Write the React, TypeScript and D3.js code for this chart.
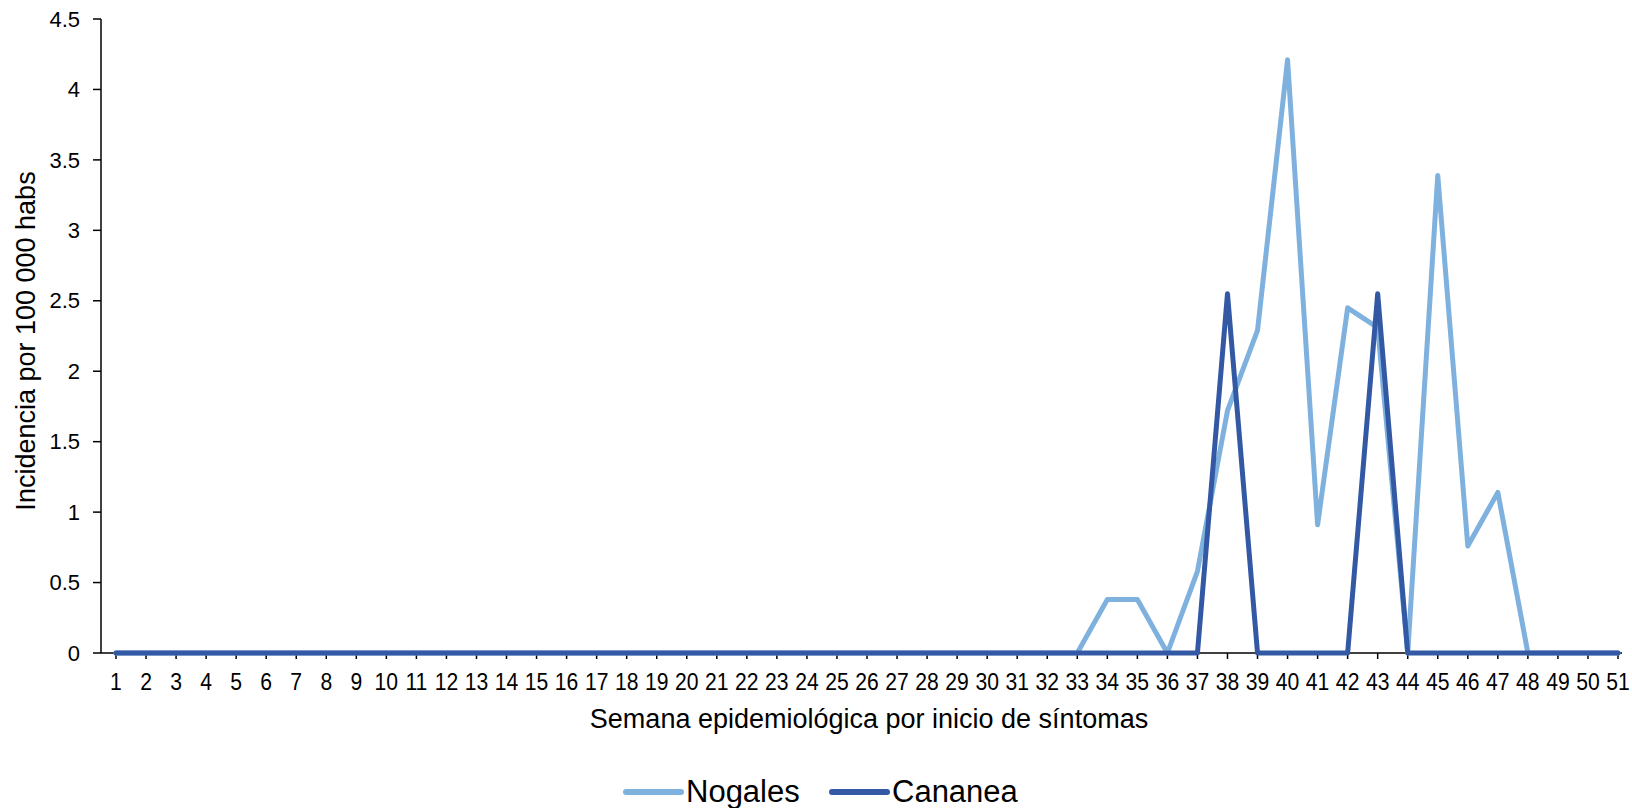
import React from "react";
import * as d3 from "d3";

const weeks: number[] = Array.from({ length: 51 }, (_, i) => i + 1);
const nogales: number[] = [
  0, 0, 0, 0, 0, 0, 0, 0, 0, 0,
  0, 0, 0, 0, 0, 0, 0, 0, 0, 0,
  0, 0, 0, 0, 0, 0, 0, 0, 0, 0,
  0, 0, 0, 0.38, 0.38, 0, 0.58, 1.72, 2.29, 4.21,
  0.91, 2.45, 2.31, 0, 3.39, 0.76, 1.14, 0, 0, 0, 0,
];
const cananea: number[] = [
  0, 0, 0, 0, 0, 0, 0, 0, 0, 0,
  0, 0, 0, 0, 0, 0, 0, 0, 0, 0,
  0, 0, 0, 0, 0, 0, 0, 0, 0, 0,
  0, 0, 0, 0, 0, 0, 0, 2.55, 0, 0,
  0, 0, 2.55, 0, 0, 0, 0, 0, 0, 0, 0,
];
const yTicks: number[] = [0, 0.5, 1, 1.5, 2, 2.5, 3, 3.5, 4, 4.5];
const seriesNames = ["Nogales", "Cananea"];
const colors = ["#7FB1DF", "#3459A4"];

export default function App() {
  const W = 1632, H = 808;
  const axisX = 101;
  const x = d3.scaleLinear().domain([1, 51]).range([116, 1618]);
  const y = d3.scaleLinear().domain([0, 4.5]).range([653, 19]);
  const line = d3
    .line<number>()
    .x((_, i) => x(weeks[i]))
    .y((d) => y(d));
  const series = [nogales, cananea];
  const font = "'Liberation Sans', Arial, sans-serif";

  return (
    <svg
      width={W}
      height={H}
      style={{ position: "absolute", left: 0, top: 0, background: "#fff" }}
      fontFamily={font}
    >
      {/* y axis */}
      <line x1={axisX} x2={axisX} y1={y(4.5)} y2={y(0)} stroke="#000" strokeWidth={1.5} />
      {yTicks.map((t) => (
        <g key={t}>
          <line x1={axisX - 8} x2={axisX} y1={y(t)} y2={y(t)} stroke="#000" strokeWidth={1.5} />
          <text x={80} y={y(t)} dy="0.35em" textAnchor="end" fontSize={22} fill="#000">
            {String(t)}
          </text>
        </g>
      ))}
      {/* x axis */}
      <line x1={axisX} x2={1622} y1={y(0)} y2={y(0)} stroke="#000" strokeWidth={1.5} />
      {weeks.map((w) => (
        <g key={w}>
          <line x1={x(w)} x2={x(w)} y1={y(0)} y2={y(0) + 6} stroke="#000" strokeWidth={1.5} />
          <text
            x={x(w)}
            y={690}
            textAnchor="middle"
            fontSize={23}
            fill="#000"
            transform={`translate(${x(w)},0) scale(0.92,1) translate(${-x(w)},0)`}
          >
            {w}
          </text>
        </g>
      ))}
      {/* series */}
      {series.map((s, k) => (
        <path
          key={k}
          d={line(s) || ""}
          fill="none"
          stroke={colors[k]}
          strokeWidth={5}
          strokeLinejoin="round"
          strokeLinecap="round"
        />
      ))}
      {/* titles */}
      <text x={869} y={728} textAnchor="middle" fontSize={27} fill="#000">
        Semana epidemiológica por inicio de síntomas
      </text>
      <text
        transform={`translate(35,341) rotate(-90)`}
        textAnchor="middle"
        fontSize={27}
        fill="#000"
      >
        Incidencia por 100 000 habs
      </text>
      {/* legend */}
      {seriesNames.map((n, k) => {
        const lx = k === 0 ? 626 : 832;
        return (
          <g key={n}>
            <line x1={lx} x2={lx + 55} y1={792} y2={792} stroke={colors[k]} strokeWidth={6} strokeLinecap="round" />
            <text x={lx + 60} y={802} fontSize={31} fill="#000">
              {n}
            </text>
          </g>
        );
      })}
    </svg>
  );
}
